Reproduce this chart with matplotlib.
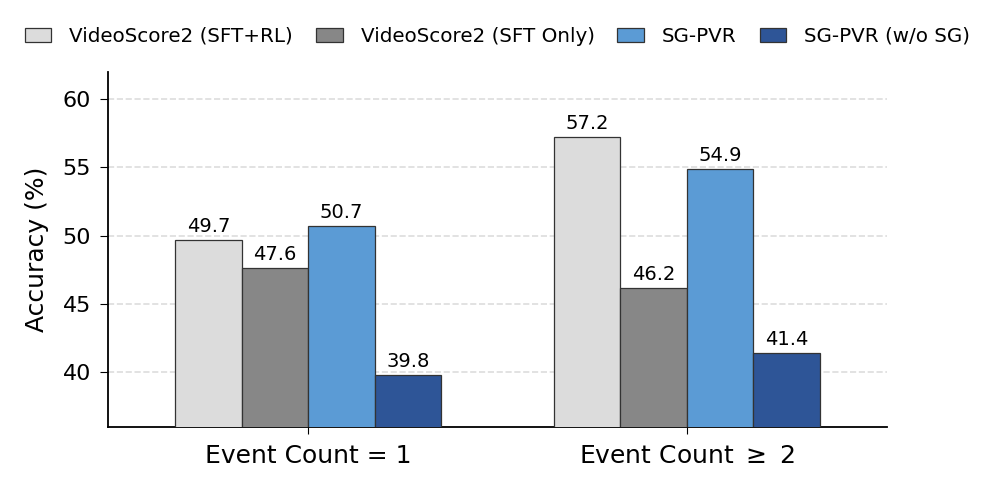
import matplotlib
matplotlib.use('Agg')
from matplotlib import pyplot as plt
import numpy as np

# Data

groups = ['Event Count = 1', 'Event Count $\\geq$ 2']
methods = ['VideoScore2 (SFT+RL)', 'VideoScore2 (SFT Only)', 'SG-PVR', 'SG-PVR (w/o SG)']
scores = [
    [49.7, 57.2],
    [47.6, 46.2],
    [50.7, 54.9],
    [39.8, 41.4],
]
colors = ['#DCDCDC', '#878787', '#5B9BD5', '#2E5597']

# Plot

fig = plt.figure(figsize=(9.96, 4.88), dpi=100)
ax = fig.add_axes([0.108, 0.125, 0.783, 0.728])

x = np.arange(len(groups))
width = 0.176
for i, (name, vals) in enumerate(zip(methods, scores)):
    pos = x + (i - 1.5)*width
    bars = ax.bar(pos, vals, width, color=colors[i], edgecolor='#333333',
                  linewidth=0.9, label=name, zorder=3)
    for b, v in zip(bars, vals):
        ax.text(b.get_x() + b.get_width()/2, v + 0.3, f'{v:.1f}',
                ha='center', va='bottom', fontsize=14)

ax.set_xticks(x)
ax.set_xticklabels(groups, fontsize=18)
ax.tick_params(axis='x', pad=7, length=5)
ax.set_xlim(-0.53, 1.53)
ax.set_ylim(36, 62)
ax.set_yticks([40, 45, 50, 55, 60])
ax.tick_params(axis='y', labelsize=16, length=6, pad=6)
ax.set_ylabel('Accuracy (%)', fontsize=18)
ax.yaxis.set_label_coords(-0.075, 0.5)
ax.yaxis.grid(True, linestyle='--', color='#DDDDDD', linewidth=1.2, zorder=0)
ax.spines['top'].set_visible(False)
ax.spines['right'].set_visible(False)
ax.spines['left'].set_linewidth(1.3)
ax.spines['bottom'].set_linewidth(1.3)

fig.legend(loc='center', bbox_to_anchor=(0.4995, 0.926), ncol=4,
           frameon=False, fontsize=14.3, handlelength=1.35, handleheight=0.7,
           columnspacing=1.15, handletextpad=0.9)

fig.savefig('out.png', dpi=100)
